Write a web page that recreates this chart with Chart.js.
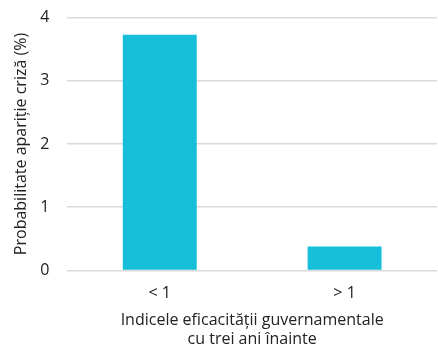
<!DOCTYPE html>
<html>
<head>
<meta charset="utf-8">
<script src="https://cdn.jsdelivr.net/npm/chart.js@4"></script>
<style>
  html, body { margin: 0; padding: 0; background: #fff; }
  #wrap { width: 438px; height: 349px; }
</style>
</head>
<body>
<div id="wrap"><canvas id="crisisChart" width="438" height="349"></canvas></div>
<script>
// crisis probability by government effectiveness bucket
const categories = ['< 1', '> 1'];
const probability = [3.73, 0.38];
const yTicks = [0, 1, 2, 3, 4];

const fontFamily = '"Open Sans", sans-serif';
const textColor = '#222';

const ctx = document.getElementById('crisisChart').getContext('2d');
new Chart(ctx, {
  type: 'bar',
  data: {
    labels: categories,
    datasets: [{
      data: probability,
      backgroundColor: '#15BFD9',
      barPercentage: 0.4,
      categoryPercentage: 1
    }]
  },
  options: {
    responsive: false,
    animation: false,
    layout: { padding: { top: 0, right: 1, bottom: 0, left: 12 } },
    plugins: {
      legend: { display: false },
      tooltip: { enabled: false }
    },
    scales: {
      x: {
        // hidden tick marks just reserve the gap above the labels
        grid: { display: false, drawTicks: true, tickLength: 9 },
        border: { display: false },
        ticks: { color: textColor, font: { family: fontFamily, size: 16 }, padding: 4 },
        title: {
          display: true,
          text: ['Indicele eficacității guvernamentale', 'cu trei ani înainte'],
          color: textColor,
          font: { family: fontFamily, size: 16 },
          padding: { top: 4, bottom: 0 }
        }
      },
      y: {
        min: 0,
        max: 4,
        afterBuildTicks: axis => { axis.ticks = yTicks.map(v => ({ value: v })); },
        grid: { color: '#d9d9d9', lineWidth: 1.5, drawTicks: true, tickLength: 10, tickColor: 'rgba(0,0,0,0)' },
        border: { display: false },
        ticks: { color: textColor, font: { family: fontFamily, size: 16 }, padding: 8 },
        title: {
          display: true,
          text: 'Probabilitate apariție criză (%)',
          color: textColor,
          font: { family: fontFamily, size: 16 },
          padding: { top: 0, bottom: 1 }
        }
      }
    }
  }
});
</script>
</body>
</html>
